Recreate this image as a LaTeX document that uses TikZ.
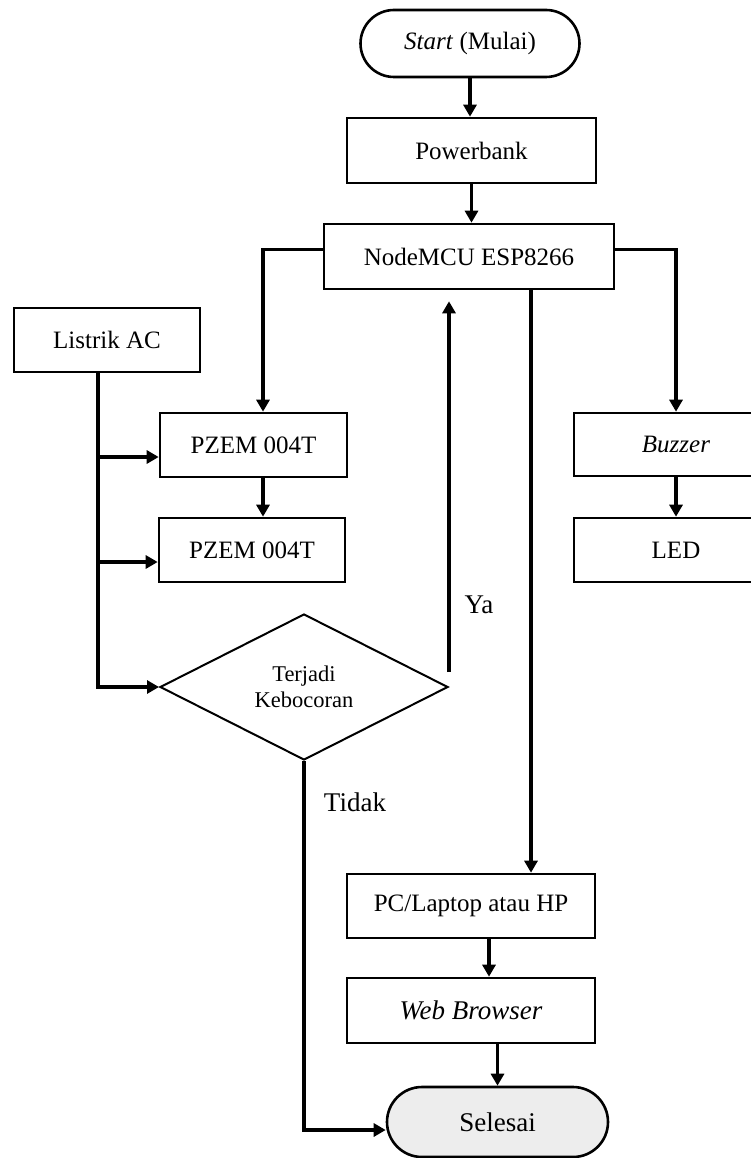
\documentclass[tikz,border=0pt]{standalone}
\usepackage{fontspec}
\setmainfont{Liberation Serif}
\usetikzlibrary{arrows.meta,shapes.geometric,shapes.misc}
\begin{document}
\begin{tikzpicture}[x=1pt,y=-1pt,
  box/.style={draw, line width=2.6pt, rectangle, inner sep=0pt, minimum width=#1, minimum height=64pt, font=\fontsize{25pt}{30pt}\selectfont},
  term/.style={draw, line width=2.6pt, rounded rectangle, inner sep=0pt, minimum width=#1, font=\fontsize{25pt}{30pt}\selectfont},
  arr/.style={line width=3.3pt, -{Triangle[length=12pt,width=13pt]}},
  lbl/.style={font=\fontsize{27pt}{30pt}\selectfont, inner sep=0pt}
]
\useasboundingbox (0,0) rectangle (750,1158);

% nodes
\node[term=219pt, minimum height=67pt] (start) at (470,43.5) {\textit{Start} (Mulai)};
\node[box=249pt, minimum height=65pt] (power) at (471.5,150.5) {Powerbank};
\node[box=290pt, minimum height=65pt] (mcu) at (469,256.5) {NodeMCU ESP8266};
\node[box=186pt] (ac) at (107,340) {Listrik AC};
\node[box=187pt] (pz1) at (253.5,445) {PZEM 004T};
\node[box=186pt] (pz2) at (252,550) {PZEM 004T};
\node[draw, line width=2pt, diamond, inner sep=0pt, minimum width=288pt, minimum height=146pt, align=center, font=\fontsize{22.5pt}{26pt}\selectfont] (dia) at (304,687) {Terjadi\\Kebocoran};
\node[box=204pt, minimum height=63pt] (buz) at (676,444.5) {\textit{Buzzer}};
\node[box=204pt] (led) at (676,550) {LED};
\node[box=248pt] (pc) at (471,906) {PC/Laptop atau HP};
\node[box=248pt, minimum height=65pt, font=\fontsize{27pt}{30pt}\selectfont] (wb) at (471,1010.5) {\textit{Web Browser}};
\node[term=221pt, minimum height=70pt, fill=black!7, font=\fontsize{27pt}{30pt}\selectfont] (sel) at (497.5,1122) {Selesai};

% helper coordinates
\coordinate (mw) at ([yshift=7pt]mcu.west);
\coordinate (me) at ([yshift=7pt]mcu.east);
\coordinate (ms) at ([xshift=62pt]mcu.south);
\coordinate (p1n) at ([xshift=9.5pt]pz1.north);
\coordinate (p1s) at ([xshift=9.5pt]pz1.south);
\coordinate (acb) at ([xshift=-9pt]ac.south);
\coordinate (b1) at ([yshift=-12pt]pz1.west);
\coordinate (b2) at ([yshift=-12pt]pz2.west);
\coordinate (ys) at ([yshift=15pt]dia.east);
\coordinate (pcs) at ([xshift=18pt]pc.south);
\coordinate (sw) at ([yshift=-8pt]sel.west);

% connectors
\draw[arr] (start.south) -- (start.south |- power.north);
\draw[arr] (power.south) -- (power.south |- mcu.north);
\draw[arr] (mw) -| (p1n);
\draw[arr] (p1s) -- (p1s |- pz2.north);
\draw[arr] (me) -| (buz.north);
\draw[arr] (buz.south) -- (led.north);
\draw[arr] (ms) -- (ms |- pc.north);
\draw[arr] (acb) |- (dia.west);
\draw[arr] (acb |- b1) -- (b1);
\draw[arr] (acb |- b2) -- (b2);
\draw[arr, shorten >=11pt] (ys) -- (ys |- mcu.south);
\draw[arr] (dia.south) |- (sw);
\draw[arr] (pcs) -- (pcs |- wb.north);
\draw[arr] (wb.south -| sel.north) -- (sel.north);

% labels
\node[lbl] (ya) at (479,605) {Ya};
\node[lbl] (tidak) at (355,802) {Tidak};
\end{tikzpicture}
\end{document}
